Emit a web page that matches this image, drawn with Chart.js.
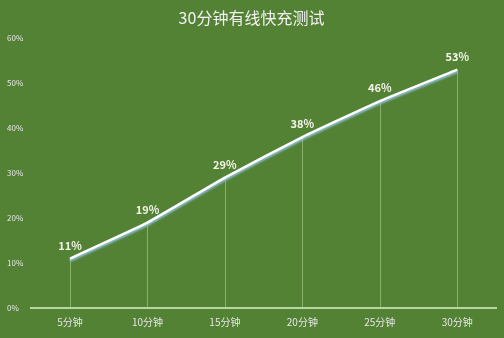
<!DOCTYPE html>
<html>
<head>
<meta charset="utf-8">
<script src="https://cdn.jsdelivr.net/npm/chart.js@4"></script>
<style>
  html, body { margin: 0; padding: 0; background: #548235; }
  #wrap { width: 504px; height: 338px; }
</style>
</head>
<body>
<div id="wrap"><canvas id="chart" width="504" height="338"></canvas></div>
<script>
// chart data
const categories = ['5分钟', '10分钟', '15分钟', '20分钟', '25分钟', '30分钟'];
const chargeLevel = [11, 19, 29, 38, 46, 53];
const yTicks = [0, 10, 20, 30, 40, 50, 60];

const FONT = "'Noto Sans CJK SC', 'Noto Sans', sans-serif";

// thin vertical lines from each point down to the axis
const dropLines = {
    id: 'dropLines',
    beforeDatasetsDraw(chart) {
        const ctx = chart.ctx;
        const meta = chart.getDatasetMeta(0);
        const bottom = chart.scales.y.getPixelForValue(0);
        ctx.save();
        ctx.strokeStyle = 'rgba(180, 215, 150, 0.55)';
        ctx.lineWidth = 1;
        meta.data.forEach(pt => {
            ctx.beginPath();
            ctx.moveTo(Math.round(pt.x) + 0.5, pt.y);
            ctx.lineTo(Math.round(pt.x) + 0.5, bottom);
            ctx.stroke();
        });
        ctx.restore();
    }
};

// soft blue glow under the line
const lineGlow = {
    id: 'lineGlow',
    beforeDatasetDraw(chart) {
        const ctx = chart.ctx;
        ctx.save();
        ctx.shadowColor = 'rgba(150, 200, 240, 0.9)';
        ctx.shadowBlur = 2;
        ctx.shadowOffsetY = 2;
    },
    afterDatasetDraw(chart) {
        chart.ctx.restore();
    }
};

// value labels above each point
const valueLabels = {
    id: 'valueLabels',
    afterDatasetsDraw(chart) {
        const ctx = chart.ctx;
        const meta = chart.getDatasetMeta(0);
        ctx.save();
        ctx.fillStyle = '#f4f4ea';
        ctx.font = 'bold 11px ' + FONT;
        ctx.textAlign = 'center';
        ctx.textBaseline = 'middle';
        meta.data.forEach((pt, i) => {
            ctx.fillText(chargeLevel[i] + '%', pt.x, pt.y - 13);
        });
        ctx.restore();
    }
};

new Chart(document.getElementById('chart'), {
    type: 'line',
    data: {
        labels: categories,
        datasets: [{
            data: chargeLevel,
            borderColor: '#ffffff',
            borderWidth: 2.5,
            pointRadius: 0,
            tension: 0.12,
            fill: false
        }]
    },
    options: {
        responsive: false,
        animation: false,
        layout: { padding: { left: 7, right: 8, top: 4, bottom: 2 } },
        plugins: {
            legend: { display: false },
            tooltip: { enabled: false },
            title: {
                display: true,
                text: '30分钟有线快充测试',
                color: '#f2f2f2',
                font: { family: FONT, size: 16, weight: 'normal' },
                padding: { top: 4, bottom: 11 }
            }
        },
        scales: {
            x: {
                offset: true,
                grid: { display: false, drawTicks: false },
                border: { display: true, color: '#b5d99c', width: 2 },
                ticks: {
                    color: '#e6e6e6',
                    font: { family: FONT, size: 10 },
                    padding: 8,
                    maxRotation: 0
                }
            },
            y: {
                min: 0,
                max: 60,
                afterBuildTicks(axis) {
                    axis.ticks = yTicks.map(v => ({ value: v }));
                },
                grid: { display: false, drawTicks: false },
                border: { display: false },
                ticks: {
                    color: '#e6e6e6',
                    font: { family: FONT, size: 8 },
                    crossAlign: 'far',
                    padding: 4,
                    callback: v => v + '%'
                }
            }
        }
    },
    plugins: [dropLines, lineGlow, valueLabels]
});
</script>
</body>
</html>
